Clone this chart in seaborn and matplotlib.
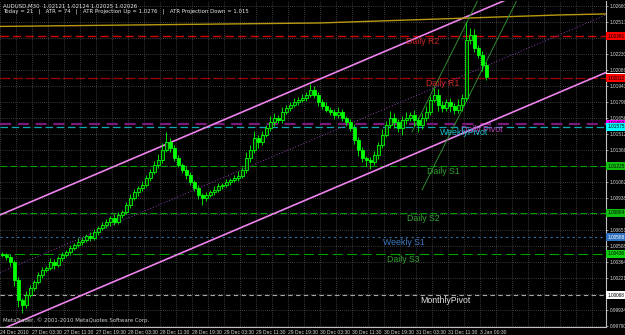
import numpy as np
import pandas as pd
import matplotlib
matplotlib.use("Agg")
import matplotlib.pyplot as plt
import seaborn as sns

# ---------------- data ----------------
symbol_header = "AUDUSD,M30  1.02121 1.02124 1.02025 1.02026"
info_header = "Today = 21   |   ATR = 74   |   ATR Projection Up = 1.0276   |   ATR Projection Down = 1.015"
copyright_text = "MetaTrader, \u00a9 2001-2010 MetaQuotes Software Corp."

first_open = 1.00430
close = [
    1.00427, 1.00409, 1.00364, 1.00203, 1.00023, 0.99978, 1.00068, 1.00131, 1.00185, 1.00247,
    1.00292, 1.00310, 1.00364, 1.00337, 1.00400, 1.00427, 1.00454, 1.00490, 1.00517, 1.00543,
    1.00561, 1.00597, 1.00579, 1.00633, 1.00669, 1.00696, 1.00723, 1.00759, 1.00723, 1.00786,
    1.00813, 1.00875, 1.00938, 1.00992, 1.01028, 1.01055, 1.01118, 1.01171, 1.01234, 1.01279,
    1.01369, 1.01440, 1.01387, 1.01297, 1.01234, 1.01189, 1.01144, 1.01082, 1.01028, 1.00965,
    1.00938, 1.00965, 1.00992, 1.01010, 1.01046, 1.01055, 1.01082, 1.01100, 1.01118, 1.01136,
    1.01189, 1.01297, 1.01369, 1.01476, 1.01440, 1.01503, 1.01566, 1.01620, 1.01656, 1.01638,
    1.01710, 1.01745, 1.01772, 1.01799, 1.01817, 1.01835, 1.01862, 1.01907, 1.01862, 1.01799,
    1.01763, 1.01727, 1.01710, 1.01683, 1.01710, 1.01656, 1.01620, 1.01566, 1.01458, 1.01369,
    1.01297, 1.01279, 1.01261, 1.01324, 1.01414, 1.01503, 1.01593, 1.01656, 1.01620, 1.01566,
    1.01638, 1.01656, 1.01683, 1.01638, 1.01593, 1.01656, 1.01710, 1.01817, 1.01862, 1.01772,
    1.01745, 1.01799, 1.01763, 1.01727, 1.01772, 1.01835, 1.02355, 1.02400, 1.02284, 1.02221,
    1.02131, 1.02026,
]
upper_wick_pips = [
    2, 2, 3, 2, 3, 2, 4, 3, 2, 3,
    3, 2, 4, 3, 2, 3, 2, 3, 2, 4,
    3, 2, 4, 3, 2, 3, 3, 2, 4, 3,
    2, 3, 4, 3, 2, 4, 3, 3, 4, 5,
    6, 9, 4, 3, 3, 2, 4, 3, 2, 3,
    2, 3, 2, 4, 3, 2, 3, 2, 3, 4,
    3, 5, 4, 6, 3, 4, 3, 5, 4, 3,
    4, 3, 3, 4, 3, 4, 3, 5, 4, 3,
    3, 4, 3, 3, 4, 3, 2, 3, 4, 3,
    3, 2, 3, 4, 3, 5, 4, 6, 4, 3,
    4, 5, 3, 4, 3, 4, 5, 4, 6, 5,
    4, 3, 4, 3, 5, 4, 16, 6, 5, 3,
    4, 3,
]
lower_wick_pips = [
    2, 3, 4, 5, 6, 7, 3, 2, 3, 2,
    3, 2, 2, 4, 2, 3, 2, 3, 2, 2,
    3, 2, 3, 2, 3, 2, 3, 4, 3, 2,
    3, 2, 3, 2, 4, 3, 2, 3, 2, 3,
    3, 2, 4, 3, 2, 3, 4, 3, 3, 4,
    6, 3, 2, 3, 2, 3, 2, 3, 2, 3,
    2, 3, 4, 3, 5, 3, 2, 3, 4, 3,
    3, 2, 3, 2, 3, 2, 3, 2, 3, 4,
    3, 2, 3, 4, 3, 3, 4, 3, 4, 5,
    4, 5, 6, 3, 4, 3, 2, 3, 5, 4,
    6, 4, 3, 5, 6, 4, 3, 3, 2, 5,
    4, 3, 5, 4, 3, 5, 3, 4, 4, 3,
    5, 3,
]

time_labels = ["24 Dec 2010", "27 Dec 03:30", "27 Dec 11:30", "27 Dec 19:30", "28 Dec 03:30",
               "28 Dec 11:30", "28 Dec 19:30", "29 Dec 03:30", "29 Dec 11:30", "29 Dec 19:30",
               "30 Dec 03:30", "30 Dec 11:30", "30 Dec 19:30", "31 Dec 03:30", "31 Dec 11:30",
               "3 Jan 00:30"]

price_ticks = [0.99790, 0.99934, 1.00077, 1.00221, 1.00364, 1.00508, 1.00651, 1.00795, 1.00938,
               1.01082, 1.01225, 1.01369, 1.01512, 1.01656, 1.01799, 1.01943, 1.02086, 1.02230,
               1.02373, 1.02517, 1.02660]

level_names = ["Daily R2", "Daily R1", "Daily Pivot", "WeeklyPivot", "Daily S1",
               "Daily S2", "Weekly S1", "Daily S3", "MonthlyPivot"]
level_values = [1.02391, 1.02012, 1.01602, 1.01575, 1.01225, 1.00804, 1.00588, 1.00436, 1.00068]
current_price = 1.02026

# trend lines (bar index, price)
channel_upper_bars = [0, 303]
channel_upper_prices = [1.00786, 1.03096]
channel_lower_bars = [0, 303]
channel_lower_prices = [0.99754, 1.02064]
channel_mid_bars = [0, 303]
channel_mid_prices = [1.00270, 1.02580]
atr_line_bars = [0, 160, 235, 280, 303]
atr_line_prices = [1.02477, 1.02508, 1.02553, 1.02580, 1.02589]
steep_a_bars = [211, 258.5]
steep_a_prices = [1.01010, 1.02714]
steep_b_bars = [206, 239]
steep_b_prices = [1.01530, 1.02714]

# ---------------- styles ----------------
level_style = {
    "Daily R2":     dict(line="#d00000", lw=1.0, dash=(6, 3), text="#d02828", box="#ff0000", boxtext="black", lx=203),
    "Daily R1":     dict(line="#a00000", lw=0.9, dash=(8, 2), text="#d02828", box="#ff0000", boxtext="black", lx=213),
    "Daily Pivot":  dict(line="#7a1a7a", lw=1.6, dash=(5, 3), text="#c040c0", box="#ff00ff", boxtext="black", lx=230.5),
    "WeeklyPivot":  dict(line="#10a8b8", lw=0.9, dash=(6, 3), text="#20c0d0", box="#00ffff", boxtext="black", lx=220),
    "Daily S1":     dict(line="#00a000", lw=0.8, dash=(6, 3), text="#30a030", box="#10c010", boxtext="black", lx=213.5),
    "Daily S2":     dict(line="#00a000", lw=0.8, dash=(6, 3), text="#30a030", box="#10c010", boxtext="black", lx=203.5),
    "Weekly S1":    dict(line="#2f6fa8", lw=0.8, dash=(2, 3), text="#3a78c0", box="#3070c0", boxtext="white", lx=191.5),
    "Daily S3":     dict(line="#00a000", lw=0.8, dash=(9, 4), text="#30a030", box="#10d010", boxtext="black", lx=193.5),
    "MonthlyPivot": dict(line="#a8a8a8", lw=0.8, dash=(4, 3), text="#e0e0e0", box="#ffffff", boxtext="black", lx=210),
}

sns.set_theme(style="dark", rc={"axes.facecolor": "black", "figure.facecolor": "black",
                                "savefig.facecolor": "black"})
plt.rcParams["font.family"] = ["Liberation Sans", "DejaVu Sans"]

fig = plt.figure(figsize=(6.25, 3.35), dpi=100)
ax = fig.add_axes([0.0, 8 / 335, 606 / 625, 326 / 335])
ax.set_facecolor("black")

# candles
n = len(close)
xb = np.arange(n) * 2 + 1
opens = np.array([first_open] + close[:-1])
closes = np.array(close)
highs = np.maximum(opens, closes) + np.array(upper_wick_pips) * 0.0001
lows = np.minimum(opens, closes) - np.array(lower_wick_pips) * 0.0001
up = closes >= opens
body_h = np.where(np.abs(closes - opens) < 0.00003, 0.00003, closes - opens)

ax.vlines(xb, lows, highs, color="#00ff00", lw=0.6, zorder=4)
ax.bar(xb[up], body_h[up], bottom=opens[up], width=1.5, facecolor="#003000",
       edgecolor="#00ff00", linewidth=0.6, zorder=5)
ax.bar(xb[~up], body_h[~up], bottom=opens[~up], width=1.5, facecolor="#00ff00",
       edgecolor="#00ff00", linewidth=0.6, zorder=5)

# trend lines
sns.lineplot(x=channel_upper_bars, y=channel_upper_prices, ax=ax, color="#ee82ee", lw=1.2, zorder=3)
sns.lineplot(x=channel_lower_bars, y=channel_lower_prices, ax=ax, color="#ee82ee", lw=1.2, zorder=3)
sns.lineplot(x=channel_mid_bars, y=channel_mid_prices, ax=ax, color="#9040b0", lw=0.7,
             linestyle=(0, (1, 2)), zorder=3)
sns.lineplot(x=atr_line_bars, y=atr_line_prices, ax=ax, color="#b89a10", lw=1.0, zorder=3)
sns.lineplot(x=steep_a_bars, y=steep_a_prices, ax=ax, color="#2e8b2e", lw=0.7, zorder=3)
sns.lineplot(x=steep_b_bars, y=steep_b_prices, ax=ax, color="#2e8b2e", lw=0.7, zorder=3)

# pivot levels
for name, val in zip(level_names, level_values):
    st = level_style[name]
    ax.axhline(val, color=st["line"], lw=st["lw"], dashes=st["dash"], zorder=2)
for name, val in zip(level_names, level_values):
    st = level_style[name]
    ax.text(st["lx"], val - 0.00005, name, color=st["text"], fontsize=6.3, va="top", ha="left",
            zorder=6)

# axes ranges & grid
ax.set_xlim(0, 303)
ax.set_ylim(0.99781, 1.02705)
ax.set_xticks(np.arange(len(time_labels)) * 16)
ax.set_xticklabels(time_labels)
ax.set_xticks(np.arange(0, 304, 8), minor=True)
for lab in ax.get_xticklabels():
    lab.set_horizontalalignment("left")

# grid price labels hidden behind the level boxes are not shown (as on the reference)
box_values = level_values + [current_price]
shown = [v for v in price_ticks if min(abs(v - b) for b in box_values) > 0.00045]
ax.set_yticks(price_ticks)
ax.set_yticklabels([f"{v:.5f}" if v in shown else "" for v in price_ticks])
ax.yaxis.tick_right()
ax.tick_params(axis="y", labelsize=3.4, colors="#d8d8d8", length=1.5, width=0.5, pad=1.0)
ax.tick_params(axis="x", which="major", labelsize=3.6, colors="#d8d8d8", length=2, width=0.5, pad=0.5)
ax.tick_params(axis="x", which="minor", length=0)
ax.grid(True, which="both", axis="x", color="#707070", lw=0.5, linestyle=(0, (1, 2)))
ax.grid(True, which="major", axis="y", color="#707070", lw=0.5, linestyle=(0, (1, 2)))
for s in ["top", "left"]:
    ax.spines[s].set_visible(False)
for s in ["right", "bottom"]:
    ax.spines[s].set_visible(True)
    ax.spines[s].set_color("#c0c0c0")
    ax.spines[s].set_linewidth(0.8)

# price boxes on right axis
def price_box(val, fc, tc):
    ax.annotate(f"{val:.5f}", xy=(1.0, val), xycoords=("axes fraction", "data"),
                xytext=(1.0, 0), textcoords="offset points", ha="left", va="center",
                fontsize=3.4, color=tc, annotation_clip=False, zorder=10,
                bbox=dict(boxstyle="square,pad=0.35", fc=fc, ec="none"))

price_box(current_price, "#ffffff", "black")
for name, val in zip(level_names, level_values):
    st = level_style[name]
    price_box(val, st["box"], st["boxtext"])

# header and footer text
ax.text(0.005, 0.992, symbol_header, transform=ax.transAxes, fontsize=3.9, color="#e8e8e8",
        va="top", ha="left", family=["DejaVu Sans"])
ax.text(0.005, 0.976, info_header, transform=ax.transAxes, fontsize=3.9, color="#e8e8e8",
        va="top", ha="left", family=["DejaVu Sans"])
ax.text(0.005, 0.012, copyright_text, transform=ax.transAxes, fontsize=3.9, color="#d0d0d0",
        va="bottom", ha="left", family=["DejaVu Sans"])

fig.savefig("out.png", dpi=100, facecolor="black")
